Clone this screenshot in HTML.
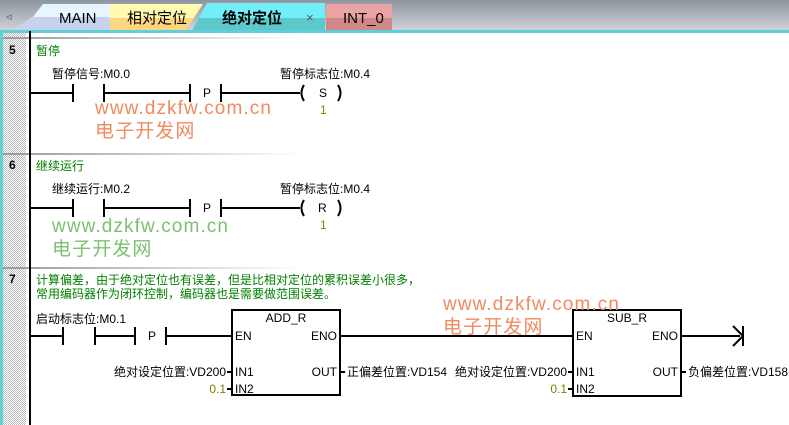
<!DOCTYPE html>
<html><head><meta charset="utf-8"><style>
html,body{margin:0;padding:0;background:#fff;width:789px;height:425px;overflow:hidden}
svg{display:block}
text{font-family:"Liberation Sans","Noto Sans CJK SC",sans-serif;font-size:12px;fill:#000}
.g{fill:#008000}.o{fill:#808000}
.wr{fill:#f08a60;font-size:19px;letter-spacing:1.1px}.wg{fill:#7cc070;font-size:19px;letter-spacing:1.1px}
</style></head><body>
<svg width="789" height="425" viewBox="0 0 789 425">
<defs>
<linearGradient id="bar" x1="0" y1="0" x2="0" y2="1"><stop offset="0" stop-color="#8e959f"/><stop offset="1" stop-color="#d2d4da"/></linearGradient>
<linearGradient id="sep" x1="0" y1="0" x2="1" y2="0"><stop offset="0" stop-color="#999"/><stop offset="1" stop-color="#fff"/></linearGradient>
<pattern id="hatch" width="2" height="2" patternUnits="userSpaceOnUse"><rect width="2" height="2" fill="#fff"/><rect width="1" height="1" fill="#bbb"/><rect x="1" y="1" width="1" height="1" fill="#bbb"/></pattern>
</defs>
<rect x="0" y="0" width="789" height="31" fill="url(#bar)"/>
<text x="6" y="20" style="fill:#555;font-size:11px">◃</text>
<path d="M22 31 L43 4 L110 4 L110 31 Z" fill="#e6f6fc"/>
<path d="M10 31 L32 17 L110 17 L110 31 Z" fill="#c6d2ee"/>
<text x="59" y="23" style="font-size:15px">MAIN</text>
<path d="M110 4 L203 4 L185 31 L110 31 Z" fill="#fffab0"/>
<path d="M110 18 L194 18 L185 31 L110 31 Z" fill="#ffd680"/>
<text x="127" y="23" style="font-size:15px">相对定位</text>
<path d="M326 4 L392 4 L392 31 L326 31 Z" fill="#eaa4a4"/>
<path d="M326 18 L392 18 L392 31 L326 31 Z" fill="#d08888"/>
<text x="343" y="23" style="font-size:15px">INT_0</text>
<path d="M192 31 L207 3 L325 3 L325 31 Z" fill="#72eefa"/>
<path d="M199 18 L325 18 L325 31 L192 31 Z" fill="#5cc8cc"/>
<text x="222" y="23" style="font-size:15px;font-weight:bold">绝对定位</text>
<text x="306" y="22" style="fill:#555;font-size:13px">×</text>
<rect x="0" y="30" width="789" height="3" fill="#60d0d8"/>
<rect x="0" y="31" width="3" height="394" fill="#60d0d8"/>
<rect x="3" y="33" width="23" height="392" fill="url(#hatch)"/>
<rect x="3" y="37" width="300" height="2" fill="url(#sep)"/>
<rect x="3" y="153" width="300" height="2" fill="url(#sep)"/>
<rect x="3" y="267" width="300" height="2" fill="url(#sep)"/>
<rect x="29" y="31" width="2" height="394" fill="#000"/>
<g stroke="#000" stroke-width="2" fill="none">
<path d="M30 93 H73 M73 84 V102 M104 84 V102 M104 93 H190 M190 84 V102 M221 84 V102 M221 93 H300"/>
<path d="M304 85 Q299 93 304 101 M338 85 Q343 93 338 101"/>
<path d="M30 208 H73 M73 199 V217 M104 199 V217 M104 208 H190 M190 199 V217 M221 199 V217 M221 208 H300"/>
<path d="M304 200 Q299 208 304 216 M338 200 Q343 208 338 216"/>
<path d="M30 336 H63 M63 327 V345 M95 327 V345 M95 336 H135 M135 327 V345 M166 327 V345 M166 336 H232"/>
<rect x="232" y="310" width="108" height="85"/>
<path d="M340 336 H573"/>
<rect x="573" y="310" width="108" height="86"/>
<path d="M681 336 H740 M733 326 L743 336 L733 346 M743 326 V346"/>
<path d="M227 372 H232 M227 389 H232 M340 372 H345 M568 372 H573 M568 389 H573 M681 372 H686"/>
</g>
<text x="9" y="54" style="font-weight:bold">5</text>
<text x="36" y="55" class="g">暂停</text>
<text x="52" y="78">暂停信号:M0.0</text>
<text x="203" y="97">P</text>
<text x="280" y="78">暂停标志位:M0.4</text>
<text x="319" y="97">S</text>
<text x="320" y="114" class="o">1</text>
<text x="95" y="114" class="wr">www.dzkfw.com.cn</text>
<text x="95" y="137" class="wr">电子开发网</text>
<text x="9" y="169" style="font-weight:bold">6</text>
<text x="36" y="170" class="g">继续运行</text>
<text x="52" y="193">继续运行:M0.2</text>
<text x="203" y="212">P</text>
<text x="280" y="193">暂停标志位:M0.4</text>
<text x="318" y="212">R</text>
<text x="320" y="229" class="o">1</text>
<text x="52" y="232" class="wg">www.dzkfw.com.cn</text>
<text x="52" y="255" class="wg">电子开发网</text>
<text x="9" y="283" style="font-weight:bold">7</text>
<text x="36" y="284" class="g">计算偏差，由于绝对定位也有误差，但是比相对定位的累积误差小很多，</text>
<text x="36" y="298" class="g">常用编码器作为闭环控制，编码器也是需要做范围误差。</text>
<text x="36" y="323">启动标志位:M0.1</text>
<text x="148" y="340">P</text>
<text x="286" y="322" text-anchor="middle">ADD_R</text>
<text x="235" y="340">EN</text><text x="337" y="340" text-anchor="end">ENO</text>
<text x="235" y="376">IN1</text><text x="235" y="393">IN2</text><text x="337" y="376" text-anchor="end">OUT</text>
<text x="226" y="376" text-anchor="end">绝对设定位置:VD200</text>
<text x="226" y="393" text-anchor="end" class="o">0.1</text>
<text x="347" y="376">正偏差位置:VD154</text>
<text x="627" y="322" text-anchor="middle">SUB_R</text>
<text x="576" y="340">EN</text><text x="678" y="340" text-anchor="end">ENO</text>
<text x="576" y="376">IN1</text><text x="576" y="393">IN2</text><text x="678" y="376" text-anchor="end">OUT</text>
<text x="567" y="376" text-anchor="end">绝对设定位置:VD200</text>
<text x="567" y="393" text-anchor="end" class="o">0.1</text>
<text x="688" y="376">负偏差位置:VD158</text>
<text x="443" y="310" class="wr">www.dzkfw.com.cn</text>
<text x="443" y="333" class="wr">电子开发网</text>
</svg>
</body></html>
